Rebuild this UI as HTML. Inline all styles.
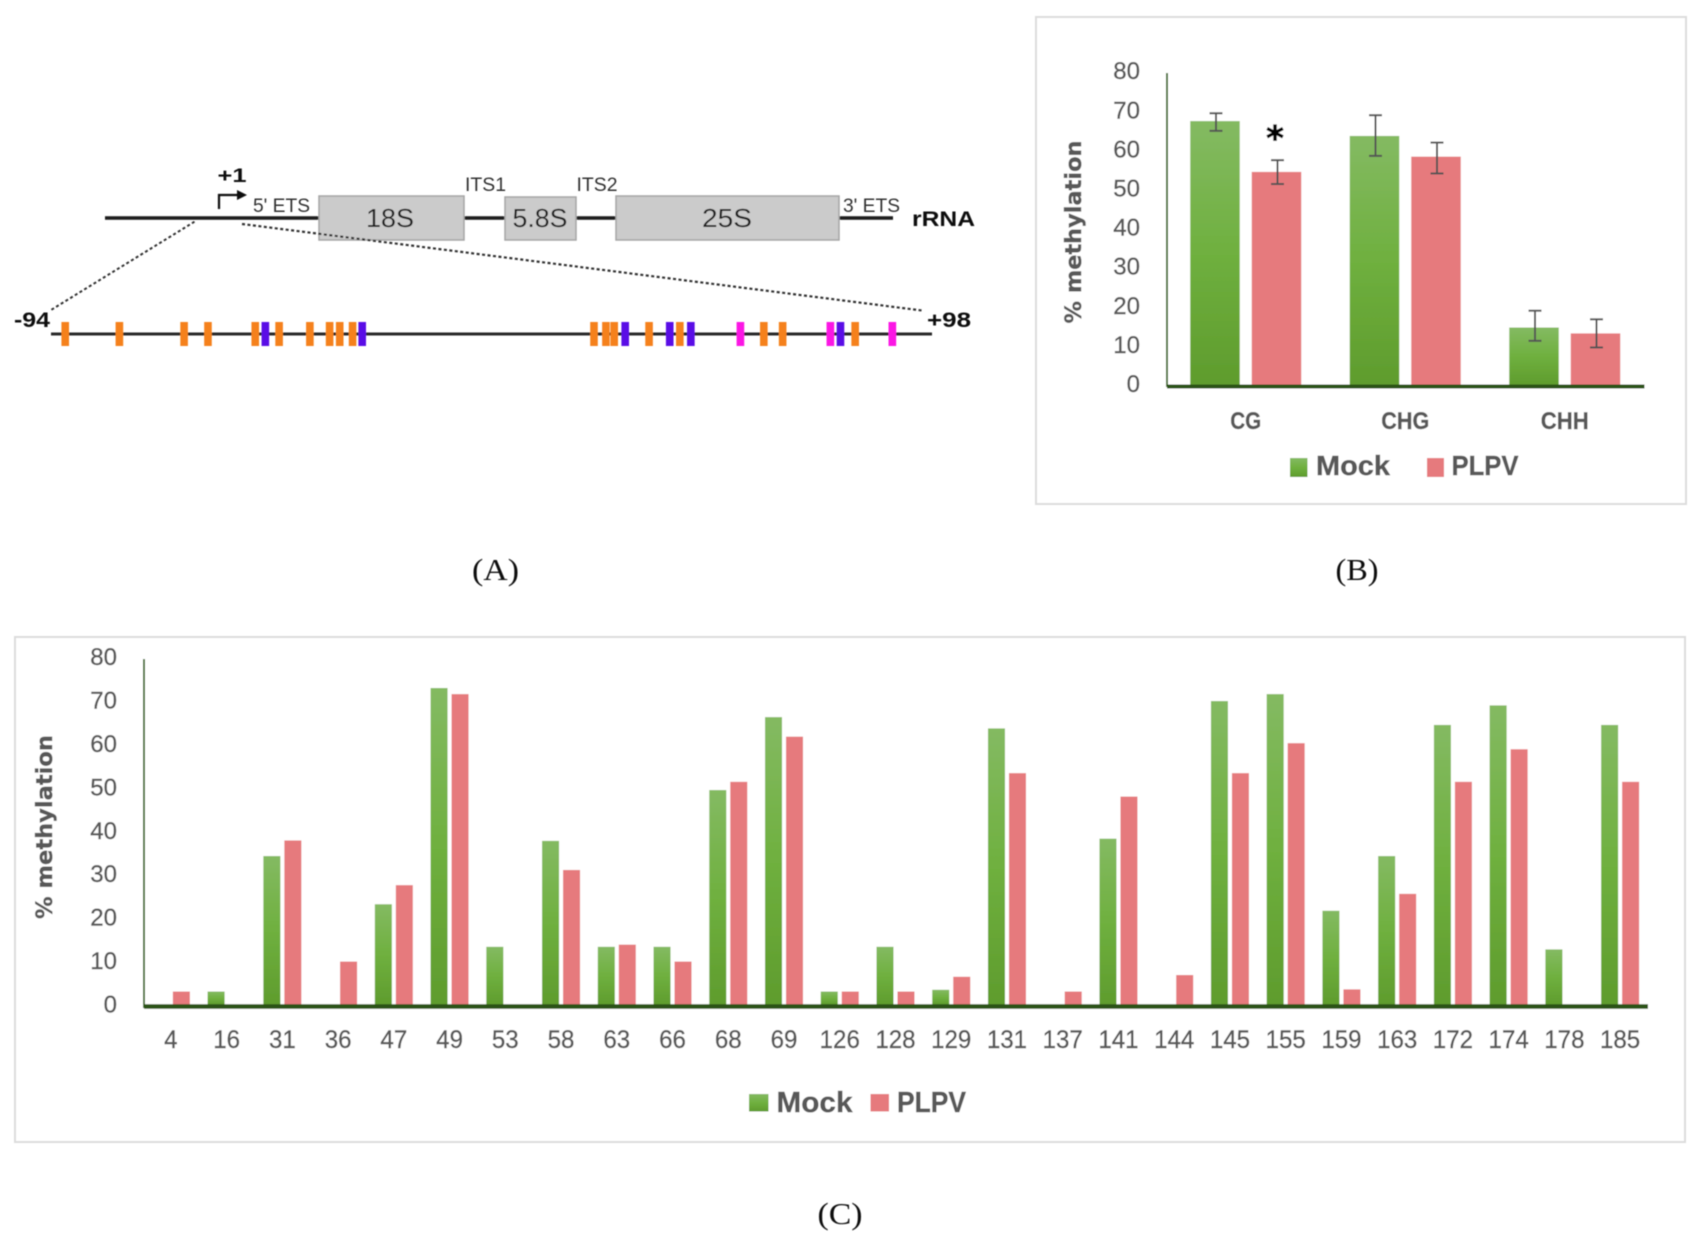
<!DOCTYPE html>
<html lang="en">
<head>
<meta charset="utf-8">
<title>rRNA promoter methylation figure</title>
<style>
html,body{margin:0;padding:0;background:#fff;width:1702px;height:1242px;overflow:hidden}
svg{display:block}
text{font-family:"Liberation Sans",sans-serif}
text[fill="#595959"]{stroke:#595959;stroke-width:.4px}
</style>
</head>
<body>
<svg id="figure" xmlns="http://www.w3.org/2000/svg" width="1702" height="1242" viewBox="0 0 1702 1242">
  <defs>
    <linearGradient id="greenGrad" x1="0" y1="0" x2="0" y2="1">
      <stop offset="0" stop-color="#84ba62"/>
      <stop offset="0.5" stop-color="#6fb03f"/>
      <stop offset="1" stop-color="#5f9c2d"/>
    </linearGradient>
    <filter id="soft" x="-2%" y="-2%" width="104%" height="104%"><feGaussianBlur stdDeviation="0.6"/></filter>
  </defs>
  <rect x="0" y="0" width="1702" height="1242" fill="#fff"/>
  <g id="root" filter="url(#soft)">
    <g id="panelA">
      <g stroke="#1a1a1a" stroke-width="3.5">
        <line x1="105" y1="218" x2="319" y2="218"/>
        <line x1="464" y1="218" x2="505" y2="218"/>
        <line x1="576" y1="218" x2="616" y2="218"/>
        <line x1="839" y1="218" x2="893" y2="218"/>
      </g>
      <rect x="319" y="196" width="145" height="44" fill="#cbcbcb" stroke="#a5a5a5" stroke-width="1.5"/>
      <rect x="505" y="197" width="71" height="43" fill="#cbcbcb" stroke="#a5a5a5" stroke-width="1.5"/>
      <rect x="616" y="196" width="223" height="44" fill="#cbcbcb" stroke="#a5a5a5" stroke-width="1.5"/>
      <text x="390" y="227" font-size="26" text-anchor="middle" fill="#222" textLength="48" lengthAdjust="spacingAndGlyphs">18S</text>
      <text x="540" y="227" font-size="26" text-anchor="middle" fill="#222" textLength="55" lengthAdjust="spacingAndGlyphs">5.8S</text>
      <text x="727" y="227" font-size="26" text-anchor="middle" fill="#222" textLength="50" lengthAdjust="spacingAndGlyphs">25S</text>
      <text x="253" y="212" font-size="19" fill="#333" textLength="57" lengthAdjust="spacingAndGlyphs">5' ETS</text>
      <text x="465" y="191" font-size="19" fill="#333" textLength="41" lengthAdjust="spacingAndGlyphs">ITS1</text>
      <text x="576.5" y="191" font-size="19" fill="#333" textLength="41" lengthAdjust="spacingAndGlyphs">ITS2</text>
      <text x="843" y="212" font-size="19" fill="#333" textLength="57" lengthAdjust="spacingAndGlyphs">3' ETS</text>
      <text x="912" y="226" font-size="21" font-weight="700" fill="#111" textLength="63" lengthAdjust="spacingAndGlyphs">rRNA</text>
      <text x="217.5" y="182" font-size="19" font-weight="700" fill="#111" textLength="29" lengthAdjust="spacingAndGlyphs">+1</text>
      <path d="M219 209V195H238" fill="none" stroke="#111" stroke-width="2.2"/>
      <path d="M237 190L247 195L237 200Z" fill="#111"/>
      <line x1="194.5" y1="221.7" x2="51" y2="310" stroke="#333" stroke-width="2" stroke-dasharray="3 2.5"/>
      <line x1="242" y1="224" x2="923.5" y2="310.7" stroke="#333" stroke-width="2.2" stroke-dasharray="3 2.5"/>
      <text x="14" y="327" font-size="21" font-weight="700" fill="#111" textLength="36" lengthAdjust="spacingAndGlyphs">-94</text>
      <text x="927" y="327" font-size="21" font-weight="700" fill="#111" textLength="44" lengthAdjust="spacingAndGlyphs">+98</text>
      <line x1="51" y1="334" x2="932" y2="334" stroke="#2b2b2b" stroke-width="3"/>
      <g id="sites"></g>
    </g>

    <rect x="1036" y="17" width="650" height="487" fill="#fff" stroke="#dcdcdc" stroke-width="2"/>
    <g id="panelB"></g>

    <rect x="15" y="637" width="1670" height="505" fill="#fff" stroke="#dcdcdc" stroke-width="2"/>
    <g id="panelC"></g>

    <text x="495.5" y="580" text-anchor="middle" font-size="31" fill="#111" textLength="47" lengthAdjust="spacingAndGlyphs" style="font-family:'Liberation Serif',serif">(A)</text>
    <text x="1357" y="580" text-anchor="middle" font-size="31" fill="#111" textLength="43" lengthAdjust="spacingAndGlyphs" style="font-family:'Liberation Serif',serif">(B)</text>
    <text x="840" y="1224" text-anchor="middle" font-size="31" fill="#111" textLength="45" lengthAdjust="spacingAndGlyphs" style="font-family:'Liberation Serif',serif">(C)</text>
  </g>
</svg>
<script>
// Panel A: site positions along the promoter fragment (nucleotide index)
const cgSites = [3.1,14.9,29.0,34.2,44.5,49.7,56.4,60.7,62.9,65.7,118.3,120.9,122.7,130.3,137,155.3,159.4,175.2];
const chgSites = [46.7,67.8,125.1,134.8,139.4,172];
const chhSites = [150.2,169.8,183.3];

// Panel B data
const summaryCategories = ['CG','CHG','CHH'];
const summaryMock = [67.5,63.7,14.7];
const summaryPlpv = [54.5,58.4,13.2];
const summaryMockLow = [65,58.6,11.3];
const summaryMockHigh = [69.5,69,19];
const summaryPlpvLow = [51.4,54.1,9.6];
const summaryPlpvHigh = [57.5,62,16.8];
const yTicks = [0,10,20,30,40,50,60,70,80];

// Panel C data
const positions = ['4','16','31','36','47','49','53','58','63','66','68','69','126','128','129','131','137','141','144','145','155','159','163','172','174','178','185'];
const positionMock = [0,3.1,34.3,0,23.2,73,13.4,37.8,13.4,13.4,49.5,66.3,3.1,13.4,3.5,63.7,0,38.3,0,70,71.6,21.7,34.3,64.5,69,12.8,64.5];
const positionPlpv = [3.1,0,37.9,10,27.6,71.6,0,31.1,13.9,10,51.4,61.8,3.1,3.1,6.5,53.4,3.1,48,6.9,53.4,60.3,3.6,25.6,51.4,58.9,0,51.4];

const NS = 'http://www.w3.org/2000/svg';
const GREY = '#595959';
const GREEN = 'url(#greenGrad)';
const RED = '#e67a7d';

function make(parent, tag, attrs, txt) {
  const el = document.createElementNS(NS, tag);
  for (const k in attrs) el.setAttribute(k, attrs[k]);
  if (txt !== undefined) el.textContent = txt;
  parent.appendChild(el);
  return el;
}

// ---------- Panel A sites ----------
const sitesG = document.getElementById('sites');
const siteX = s => 51 + s * 4.59;
function drawSites(list, color, name) {
  list.forEach(s => {
    const r = make(sitesG, 'rect', {x: siteX(s) - 3.8, y: 322, width: 7.6, height: 24, fill: color});
    
    
  });
}
drawSites(cgSites, '#f5811f', 'cg-site-marker');
drawSites(chgSites, '#5a10e6', 'chg-site-marker');
drawSites(chhSites, '#fb12e4', 'chh-site-marker');

// ---------- Panel B ----------
const pb = document.getElementById('panelB');
const bY = v => 385 - v * 3.91;
const bLeft = 1166, bRight = 1644.5;
const bBand = (bRight - bLeft) / summaryCategories.length;
const bCenter = i => bLeft + bBand * (i + 0.5);
const bBarW = 49.5, bGap = 12;

yTicks.forEach(t => {
  const el = make(pb, 'text', {x: 1140, y: bY(t) + 7, 'font-size': 24, 'text-anchor': 'end', fill: GREY}, String(t));
  
  
});

function bErr(x, lo, hi) {
  const g = make(pb, 'g', {stroke: '#555', 'stroke-width': 2, fill: 'none'});
  
  
  make(g, 'line', {x1: x, x2: x, y1: bY(hi), y2: bY(lo)});
  make(g, 'line', {x1: x - 6.5, x2: x + 6.5, y1: bY(hi), y2: bY(hi)});
  make(g, 'line', {x1: x - 6.5, x2: x + 6.5, y1: bY(lo), y2: bY(lo)});
}

summaryCategories.forEach((c, i) => {
  const cx = bCenter(i);
  const mx = cx - bGap / 2 - bBarW, px = cx + bGap / 2;
  const m = make(pb, 'rect', {x: mx, y: bY(summaryMock[i]), width: bBarW, height: 385 - bY(summaryMock[i]), fill: GREEN});
  
  
  const p = make(pb, 'rect', {x: px, y: bY(summaryPlpv[i]), width: bBarW, height: 385 - bY(summaryPlpv[i]), fill: RED});
  
  
  bErr(mx + bBarW / 2 + 1, summaryMockLow[i], summaryMockHigh[i]);
  bErr(px + bBarW / 2 + 1, summaryPlpvLow[i], summaryPlpvHigh[i]);
  const lab = make(pb, 'text', {x: cx, y: 429, 'font-size': 24, 'font-weight': 700, 'text-anchor': 'middle', fill: GREY, textLength: c.length === 2 ? 31 : 48, lengthAdjust: 'spacingAndGlyphs'}, c);
  
  
});

const bYAxis = make(pb, 'line', {x1: 1167, x2: 1167, y1: 73, y2: 387, stroke: '#3f7022', 'stroke-width': 2});


const bXAxis = make(pb, 'line', {x1: 1167, x2: bRight, y1: 386.5, y2: 386.5, stroke: '#2b5216', 'stroke-width': 4});



const bTitle = make(pb, 'text', {x: 0, y: 0, transform: 'translate(1081 232) rotate(-90)', 'font-size': 22.5, 'font-weight': 700, 'text-anchor': 'middle', fill: GREY, textLength: 183, lengthAdjust: 'spacingAndGlyphs', style: "font-family:'DejaVu Sans',sans-serif"}, '% methylation');



const star = make(pb, 'text', {x: 1275, y: 150, 'font-size': 34, 'font-weight': 700, 'text-anchor': 'middle', fill: '#000', stroke: '#000', 'stroke-width': 0.7, style: "font-family:'DejaVu Sans',sans-serif"}, '*');



const bLegM = make(pb, 'rect', {x: 1290, y: 458, width: 17.5, height: 19, fill: GREEN});


const bLegMT = make(pb, 'text', {x: 1316, y: 475, 'font-size': 28, 'font-weight': 700, fill: GREY, textLength: 74, lengthAdjust: 'spacingAndGlyphs'}, 'Mock');


const bLegP = make(pb, 'rect', {x: 1427, y: 458, width: 17, height: 19, fill: RED});


const bLegPT = make(pb, 'text', {x: 1451.5, y: 475, 'font-size': 28, 'font-weight': 700, fill: GREY, textLength: 67, lengthAdjust: 'spacingAndGlyphs'}, 'PLPV');



// ---------- Panel C ----------
const pc = document.getElementById('panelC');
const cBase = 1005;
const cY = v => cBase - v * 4.342;
const cLeft = 143, cRight = 1648;
const cBand = (cRight - cLeft) / positions.length;
const cCenter = i => cLeft + cBand * (i + 0.5);
const cBarW = 17, cGap = 4;

yTicks.forEach(t => {
  const el = make(pc, 'text', {x: 117, y: cY(t) + 7.5, 'font-size': 24, 'text-anchor': 'end', fill: GREY}, String(t));
  
  
});

positions.forEach((label, i) => {
  const cx = cCenter(i);
  if (positionMock[i] > 0) {
    const m = make(pc, 'rect', {x: cx - cGap / 2 - cBarW, y: cY(positionMock[i]), width: cBarW, height: cBase - cY(positionMock[i]), fill: GREEN});
    
    
  }
  if (positionPlpv[i] > 0) {
    const p = make(pc, 'rect', {x: cx + cGap / 2, y: cY(positionPlpv[i]), width: cBarW, height: cBase - cY(positionPlpv[i]), fill: RED});
    
    
  }
  const t = make(pc, 'text', {x: cx, y: 1048, 'font-size': 25, 'text-anchor': 'middle', fill: GREY, textLength: label.length * 13.4, lengthAdjust: 'spacingAndGlyphs'}, label);
  
  
});

const cYAxis = make(pc, 'line', {x1: 144, x2: 144, y1: 659, y2: 1008, stroke: '#3f7022', 'stroke-width': 2});


const cXAxis = make(pc, 'line', {x1: 144, x2: cRight, y1: 1006.5, y2: 1006.5, stroke: '#2b5216', 'stroke-width': 4.5});



const cTitle = make(pc, 'text', {x: 0, y: 0, transform: 'translate(52 827) rotate(-90)', 'font-size': 22.5, 'font-weight': 700, 'text-anchor': 'middle', fill: GREY, textLength: 184, lengthAdjust: 'spacingAndGlyphs', style: "font-family:'DejaVu Sans',sans-serif"}, '% methylation');



const cLegM = make(pc, 'rect', {x: 749, y: 1094, width: 19.5, height: 17.5, fill: GREEN});


const cLegMT = make(pc, 'text', {x: 776.5, y: 1112, 'font-size': 29, 'font-weight': 700, fill: GREY, textLength: 76, lengthAdjust: 'spacingAndGlyphs'}, 'Mock');


const cLegP = make(pc, 'rect', {x: 870.5, y: 1094, width: 18.5, height: 17.5, fill: RED});


const cLegPT = make(pc, 'text', {x: 897, y: 1112, 'font-size': 29, 'font-weight': 700, fill: GREY, textLength: 69, lengthAdjust: 'spacingAndGlyphs'}, 'PLPV');


</script>
</body>
</html>
